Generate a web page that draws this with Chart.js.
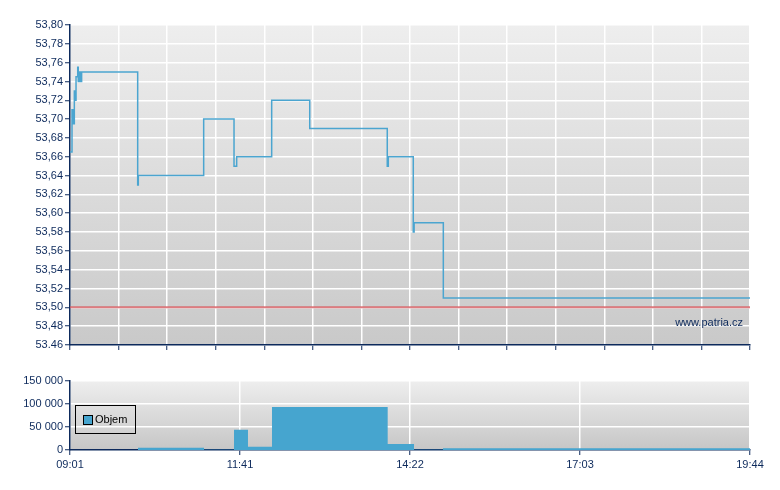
<!DOCTYPE html>
<html>
<head>
<meta charset="utf-8">
<script src="https://cdn.jsdelivr.net/npm/chart.js@4/dist/chart.umd.min.js"></script>
<style>
  html, body { margin: 0; padding: 0; background: #ffffff; overflow: hidden; }
  body { width: 780px; height: 490px; position: relative; font-family: "Liberation Sans", Arial, sans-serif; }
  #c1 { position: absolute; left: 0; top: 0; }
  #c2 { position: absolute; left: 0; top: 360px; }
  #wm { position: absolute; right: 37px; top: 316px; font-size: 11px; color: #0d2a5c; }
  #legend { position: absolute; left: 75px; top: 405px; width: 61px; height: 29px; box-sizing: border-box; border: 1px solid #000; }
  #legend .sw { position: absolute; left: 7px; top: 9px; width: 8px; height: 8px; border: 1px solid #000; background: #46a5cf; }
  #legend .tx { position: absolute; left: 19px; top: 7px; font-size: 11px; line-height: 13px; color: #000; }
</style>
</head>
<body>
<canvas id="c1" width="780" height="360"></canvas>
<canvas id="c2" width="780" height="130"></canvas>
<div id="wm">www.patria.cz</div>
<div id="legend"><div class="sw"></div><div class="tx">Objem</div></div>
<script>
// ---- data ----
const sessionStart = "09:01";
const sessionEnd = "19:44";
const priceTimes = ["09:01:00","09:02:54","09:03:48","09:05:06","09:05:42","09:06:42","09:08:18","09:08:48","09:10:00","09:10:42","09:12:00",
  "10:05:00","10:05:36","11:07:24","11:36:06","11:38:36","12:11:42","12:47:42","14:01:00","14:02:00","14:25:36","14:26:24","14:54:00","19:44:00"];
const priceValues = [53.665,53.71,53.695,53.73,53.72,53.745,53.755,53.74,53.75,53.74,53.75,
  53.63,53.64,53.70,53.65,53.66,53.72,53.69,53.65,53.66,53.58,53.59,53.51,53.51];
const previousClose = 53.50;
const volumeTimes = ["09:01:00","10:05:18","11:07:42","11:36:06","11:49:18","12:12:00","14:01:24","14:26:18","14:53:42","19:44:00"];
const volumeValues = [0,5000,400,44000,7000,93500,13000,500,4000,4000];
const priceTickValues = [53.46,53.48,53.50,53.52,53.54,53.56,53.58,53.60,53.62,53.64,53.66,53.68,53.70,53.72,53.74,53.76,53.78,53.80];
const priceTickLabels = ["53.46","53,48","53,50","53,52","53,54","53,56","53,58","53,60","53,62","53,64","53,66","53,68","53,70","53,72","53,74","53,76","53,78","53,80"];
const volumeTickValues = [0,50000,100000,150000];
const volumeTickLabels = ["0","50 000","100 000","150 000"];
const timeTickLabels = ["09:01","11:41","14:22","17:03","19:44"];

// ---- helpers ----
function toMin(s){ const p = s.split(':').map(Number); return p[0]*60 + p[1] + (p[2]||0)/60; }
const xMin = toMin(sessionStart), xMax = toMin(sessionEnd);
const NAVY = '#0d2a5c';
const FONT = { family: '"Liberation Sans", Arial, sans-serif', size: 11 };
Chart.defaults.font = FONT;
Chart.defaults.color = NAVY;

function bgPlugin(top, bottom){
  return {
    id: 'bg',
    beforeDraw(chart){
      const a = chart.chartArea, ctx = chart.ctx;
      const g = ctx.createLinearGradient(0, a.top, 0, a.bottom);
      g.addColorStop(0, top); g.addColorStop(1, bottom);
      ctx.save(); ctx.fillStyle = g; ctx.fillRect(a.left, a.top, a.right - a.left, a.bottom - a.top); ctx.restore();
    }
  };
}

const pricePts = priceTimes.map((t,i)=>({x: toMin(t), y: priceValues[i]}));
const closePts = [{x: xMin, y: previousClose},{x: xMax, y: previousClose}];
const volPts = volumeTimes.map((t,i)=>({x: toMin(t), y: volumeValues[i]}));

new Chart(document.getElementById('c1'), {
  type: 'line',
  data: { datasets: [
    { data: pricePts, borderColor: '#4ba5d0', borderWidth: 1.5, stepped: 'before', pointRadius: 0, fill: false },
    { data: closePts, borderColor: 'rgba(215,90,95,0.8)', borderWidth: 2, pointRadius: 0, fill: false }
  ]},
  options: {
    responsive: false, animation: false, events: [],
    layout: { padding: { top: 25, right: 30, bottom: 0, left: 0 } },
    plugins: { legend: { display: false }, tooltip: { enabled: false } },
    scales: {
      x: { type: 'linear', min: xMin, max: xMax,
        afterBuildTicks(s){ s.ticks = Array.from({length: 15}, (_, i) => ({ value: xMin + i*(xMax - xMin)/14 })); },
        afterFit(s){ s.height = 15; },
        ticks: { display: false },
        grid: { color: '#ffffff', lineWidth: 1.5, tickColor: NAVY, tickLength: 5, tickWidth: 1 },
        border: { color: NAVY, width: 1.5 }
      },
      y: { type: 'linear', min: 53.46, max: 53.80,
        afterBuildTicks(s){ s.ticks = priceTickValues.map(v => ({ value: v })); },
        afterFit(s){ s.width = 70; },
        ticks: { color: NAVY, padding: 2, callback: (v, i) => priceTickLabels[i] },
        grid: { color: '#ffffff', lineWidth: 1.5, tickColor: NAVY, tickLength: 5, tickWidth: 1 },
        border: { color: NAVY, width: 1.5 }
      }
    }
  },
  plugins: [bgPlugin('#eeeeee', '#c9c9c9')]
});

new Chart(document.getElementById('c2'), {
  type: 'line',
  data: { datasets: [
    { data: volPts, borderWidth: 0, borderColor: 'rgba(0,0,0,0)', backgroundColor: '#46a5cf', stepped: 'before', pointRadius: 0, fill: 'origin' }
  ]},
  options: {
    responsive: false, animation: false, events: [],
    layout: { padding: { top: 21, right: 30, bottom: 15, left: 0 } },
    plugins: { legend: { display: false }, tooltip: { enabled: false } },
    scales: {
      x: { type: 'linear', min: xMin, max: xMax,
        afterBuildTicks(s){ s.ticks = timeTickLabels.map((_, i) => ({ value: xMin + i*(xMax - xMin)/4 })); },
        afterFit(s){ s.height = 25; },
        ticks: { color: NAVY, padding: 3, maxRotation: 0, autoSkip: false, callback: (v, i) => timeTickLabels[i] },
        grid: { color: '#ffffff', lineWidth: 1.5, tickColor: NAVY, tickLength: 5, tickWidth: 1 },
        border: { color: NAVY, width: 1.5 }
      },
      y: { type: 'linear', min: 0, max: 150000,
        afterBuildTicks(s){ s.ticks = volumeTickValues.map(v => ({ value: v })); },
        afterFit(s){ s.width = 70; },
        ticks: { color: NAVY, padding: 2, callback: (v, i) => volumeTickLabels[i] },
        grid: { color: '#ffffff', lineWidth: 1.5, tickColor: NAVY, tickLength: 5, tickWidth: 1 },
        border: { color: NAVY, width: 1.5 }
      }
    }
  },
  plugins: [bgPlugin('#eeeeee', '#c6c6c6')]
});
</script>
</body>
</html>
